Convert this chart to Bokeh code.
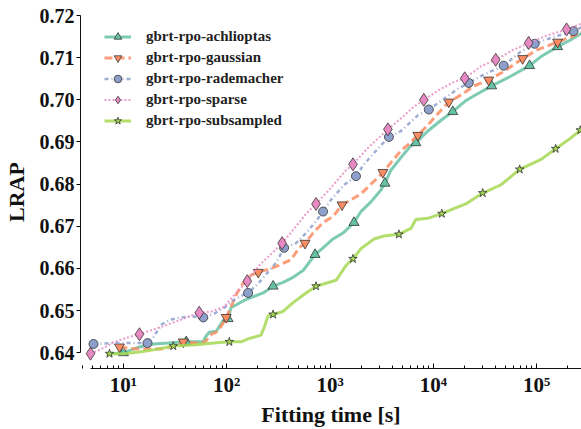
from bokeh.plotting import figure
from bokeh.models import Range1d, FixedTicker, PrintfTickFormatter, Legend, LegendItem
from bokeh.embed import file_html
from bokeh.resources import INLINE

# LRAP versus fitting time for the random-projection GBRT variants
achlioptas_t = [7.8, 10.0, 11.4, 14.3, 19.5, 27.2, 40.6, 59.3, 62.0, 67.7, 79.2, 92.5, 103, 110, 124, 144,
                180, 225, 281, 351, 439, 548, 716, 856, 1069, 1335, 1706, 1993, 2490, 3110, 3398, 3885,
                4853, 6062, 6776, 8850, 11810, 15420, 20600, 24600, 36700, 56100, 85500, 109300, 159700,
                213000, 272000]
achlioptas_v = [0.6398, 0.6400, 0.6405, 0.6414, 0.6421, 0.6423, 0.6426, 0.6426, 0.6437, 0.6449, 0.6451,
                0.6477, 0.6481, 0.6507, 0.6514, 0.6523, 0.6533, 0.6542, 0.6558, 0.6567, 0.6579, 0.6595,
                0.6633, 0.6649, 0.6670, 0.6684, 0.6709, 0.6735, 0.6758, 0.6786, 0.6802, 0.6833, 0.6863,
                0.6891, 0.6898, 0.6926, 0.6951, 0.6972, 0.6998, 0.7009, 0.7033, 0.7056, 0.7081, 0.7102,
                0.7126, 0.7142, 0.7158]
achlioptas_mt = [10.0, 40.6, 103, 281, 716, 1706, 3398, 6776, 15420, 36700, 85500, 159700]
achlioptas_mv = [0.6400, 0.6426, 0.6481, 0.6558, 0.6633, 0.6709, 0.6802, 0.6898, 0.6972, 0.7033, 0.7081, 0.7126]

gaussian_t = [9.15, 13.4, 23.3, 32.5, 38.0, 50.8, 62.0, 70.8, 79.2, 88.5, 98.9, 110, 126, 144, 172, 202,
              269, 351, 420, 502, 573, 685, 856, 1069, 1306, 1595, 1993, 2490, 2910, 3250, 3885, 4853,
              5670, 7080, 8850, 11050, 14120, 17260, 20600, 24600, 34360, 47960, 73260, 102300, 159700,
              213000, 272000]
gaussian_v = [0.6414, 0.6409, 0.6409, 0.6416, 0.6426, 0.6423, 0.6426, 0.6444, 0.6449, 0.6463, 0.6484,
              0.6509, 0.6542, 0.6565, 0.6584, 0.6591, 0.6600, 0.6612, 0.6621, 0.6649, 0.6660, 0.6684,
              0.6709, 0.6723, 0.6751, 0.6763, 0.6777, 0.6800, 0.6816, 0.6828, 0.6851, 0.6879, 0.6893,
              0.6916, 0.6940, 0.6967, 0.6995, 0.7007, 0.7019, 0.7033, 0.7047, 0.7067, 0.7098, 0.7119,
              0.7137, 0.7149, 0.7160]
gaussian_mt = [9.15, 38.0, 98.9, 202, 573, 1306, 3250, 7080, 14120, 34360, 73260, 159700]
gaussian_mv = [0.6414, 0.6426, 0.6484, 0.6591, 0.6660, 0.6751, 0.6828, 0.6916, 0.6995, 0.7047, 0.7098, 0.7137]

rademacher_t = [5.13, 7.66, 11.9, 17.1, 19.5, 23.3, 29.1, 36.3, 48.5, 59.3, 75.7, 94.6, 118, 144, 161,
                206, 301, 359, 469, 586, 732, 856, 1023, 1365, 1783, 2132, 2663, 3717, 4853, 7080, 9050,
                12630, 17260, 22030, 30770, 47960, 70030, 95700, 145900, 227500, 272000]
rademacher_v = [0.6421, 0.6423, 0.6423, 0.6423, 0.6437, 0.6467, 0.6479, 0.6484, 0.6486, 0.6484, 0.6493,
                0.6507, 0.6526, 0.6537, 0.6542, 0.6567, 0.6614, 0.6649, 0.6660, 0.6684, 0.6712, 0.6735,
                0.6763, 0.6798, 0.6819, 0.6847, 0.6874, 0.6912, 0.6926, 0.6963, 0.6977, 0.7002, 0.7026,
                0.7040, 0.7060, 0.7081, 0.7114, 0.7133, 0.7149, 0.7163, 0.7172]
rademacher_mt = [5.13, 17.1, 59.3, 161, 359, 856, 1783, 3717, 9050, 22030, 47960, 95700, 227500]
rademacher_mv = [0.6421, 0.6423, 0.6484, 0.6542, 0.6649, 0.6735, 0.6819, 0.6912, 0.6977, 0.7040, 0.7081,
                 0.7133, 0.7163]

sparse_t = [4.8, 6.12, 8.19, 11.2, 14.3, 19.9, 27.2, 36.3, 48.5, 54.2, 70.8, 94.6, 118, 144, 158, 206,
            258, 344, 469, 586, 732, 977, 1428, 1668, 2328, 3632, 4853, 6485, 8095, 11810, 15780, 20140,
            28760, 40180, 59980, 83750, 127600, 195000, 272000]
sparse_v = [0.6398, 0.6409, 0.6426, 0.6437, 0.6444, 0.6456, 0.6467, 0.6479, 0.6491, 0.6495, 0.6498,
            0.6509, 0.6537, 0.6560, 0.6570, 0.6607, 0.6630, 0.6660, 0.6700, 0.6730, 0.6753, 0.6786,
            0.6833, 0.6847, 0.6886, 0.6930, 0.6956, 0.6984, 0.7000, 0.7026, 0.7042, 0.7051, 0.7079,
            0.7095, 0.7119, 0.7135, 0.7153, 0.7167, 0.7181]
sparse_mt = [4.8, 14.3, 54.2, 158, 344, 732, 1668, 3632, 8095, 20140, 40180, 83750, 195000]
sparse_mv = [0.6398, 0.6444, 0.6495, 0.6570, 0.6660, 0.6753, 0.6847, 0.6930, 0.7000, 0.7051, 0.7095,
             0.7135, 0.7167]

subsampled_t = [6.85, 7.33, 10.0, 14.3, 19.5, 30.4, 50.8, 74.1, 106, 138, 161, 215, 230, 252, 281, 351,
                439, 586, 732, 915, 1143, 1428, 1668, 1993, 2663, 3326, 4645, 6062, 6776, 8850, 12080,
                15780, 20600, 30060, 44880, 68550, 109300, 152800, 213000, 272000]
subsampled_v = [0.6395, 0.6398, 0.6398, 0.6402, 0.6407, 0.6416, 0.6419, 0.6423, 0.6426, 0.6426, 0.6433,
                0.6442, 0.6460, 0.6488, 0.6491, 0.6498, 0.6519, 0.6542, 0.6558, 0.6565, 0.6572, 0.6607,
                0.6623, 0.6647, 0.6670, 0.6677, 0.6681, 0.6695, 0.6716, 0.6719, 0.6730, 0.6742, 0.6753,
                0.6779, 0.6798, 0.6835, 0.6858, 0.6884, 0.6909, 0.6930]
subsampled_mt = [7.33, 30.4, 106, 281, 732, 1668, 4645, 12080, 30060, 68550, 152800, 265000]
subsampled_mv = [0.6398, 0.6416, 0.6426, 0.6491, 0.6558, 0.6623, 0.6681, 0.6730, 0.6779, 0.6835, 0.6884,
                 0.6928]

y_ticks = [0.64, 0.65, 0.66, 0.67, 0.68, 0.69, 0.70, 0.71, 0.72]
x_ticks = [10, 100, 1000, 10000, 100000]
x_tick_labels = ["10¹", "10²", "10³", "10⁴", "10⁵"]

FONT = "Liberation Serif"

series = [
    ("gbrt-rpo-achlioptas", achlioptas_t, achlioptas_v, achlioptas_mt, achlioptas_mv,
     "#66c2a5", "solid", 3.0, "triangle", 10),
    ("gbrt-rpo-gaussian", gaussian_t, gaussian_v, gaussian_mt, gaussian_mv,
     "#fc8d62", "8 4", 3.0, "inverted_triangle", 10),
    ("gbrt-rpo-rademacher", rademacher_t, rademacher_v, rademacher_mt, rademacher_mv,
     "#8da0cb", "4 3 1 3", 2.5, "circle", 9),
    ("gbrt-rpo-sparse", sparse_t, sparse_v, sparse_mt, sparse_mv,
     "#e78ac3", "2 2", 2.0, "diamond", 13),
    ("gbrt-rpo-subsampled", subsampled_t, subsampled_v, subsampled_mt, subsampled_mv,
     "#a6d854", "solid", 3.0, "star", 9),
]

p = figure(width=581, height=429, x_axis_type="log",
           x_range=Range1d(3.84, 272000), y_range=Range1d(0.63628, 0.72),
           output_backend="svg", toolbar_location=None,
           min_border_left=79, min_border_right=0, min_border_top=15, min_border_bottom=54)
p.outline_line_color = None
p.background_fill_color = "white"
p.border_fill_color = "white"
p.xgrid.visible = False
p.ygrid.visible = False

items = []
for name, t, v, mt, mv, color, dash, lw, marker, msize in series:
    ln = p.line(t, v, line_color=color, line_width=lw, line_dash=dash, line_alpha=0.85)
    sc = p.scatter(mt, mv, marker=marker, size=msize, fill_color=color,
                   line_color="#333333", line_width=0.8)
    items.append(LegendItem(label=name, renderers=[ln, sc]))

legend = Legend(items=items, location=(24, 238), margin=0, padding=0,
                glyph_width=27, glyph_height=19, label_height=19, spacing=2,
                label_standoff=15, border_line_color=None, background_fill_alpha=0,
                label_text_font=FONT, label_text_font_style="bold",
                label_text_font_size="15px", label_text_color="#222222")
p.add_layout(legend)

# x axis: log scale, ticks pointing inward, minor decade ticks
xa = p.xaxis[0]
xa.ticker = FixedTicker(ticks=x_ticks,
                        minor_ticks=[k * 10 ** e for e in range(0, 6) for k in range(2, 10)])
xa.major_label_overrides = dict(zip(x_ticks, x_tick_labels))
xa.bounds = (4.8, 272000)
xa.major_tick_in = 5
xa.major_tick_out = 0
xa.minor_tick_in = 3
xa.minor_tick_out = 0
xa.major_label_standoff = 4
xa.major_label_text_font = FONT
xa.major_label_text_font_style = "bold"
xa.major_label_text_font_size = "21px"
xa.major_label_text_color = "#111111"
xa.axis_label = "Fitting time [s]"
xa.axis_label_text_font = FONT
xa.axis_label_text_font_style = "bold"
xa.axis_label_text_font_size = "22px"
xa.axis_label_text_color = "#111111"
xa.axis_label_standoff = 2
xa.axis_line_color = "#111111"

# y axis: ticks pointing outward, spine limited to the data span
ya = p.yaxis[0]
ya.ticker = FixedTicker(ticks=y_ticks, minor_ticks=[])
ya.formatter = PrintfTickFormatter(format="%.2f")
ya.bounds = (0.64, 0.72)
ya.major_tick_in = 0
ya.major_tick_out = 4
ya.minor_tick_in = 0
ya.minor_tick_out = 0
ya.major_label_standoff = 2
ya.major_label_text_font = FONT
ya.major_label_text_font_style = "bold"
ya.major_label_text_font_size = "20px"
ya.major_label_text_color = "#111111"
ya.axis_label = "LRAP"
ya.axis_label_text_font = FONT
ya.axis_label_text_font_style = "bold"
ya.axis_label_text_font_size = "22px"
ya.axis_label_text_color = "#111111"
ya.axis_label_standoff = 8
ya.axis_line_color = "#111111"

open("out.html", "w").write(file_html(p, INLINE))
